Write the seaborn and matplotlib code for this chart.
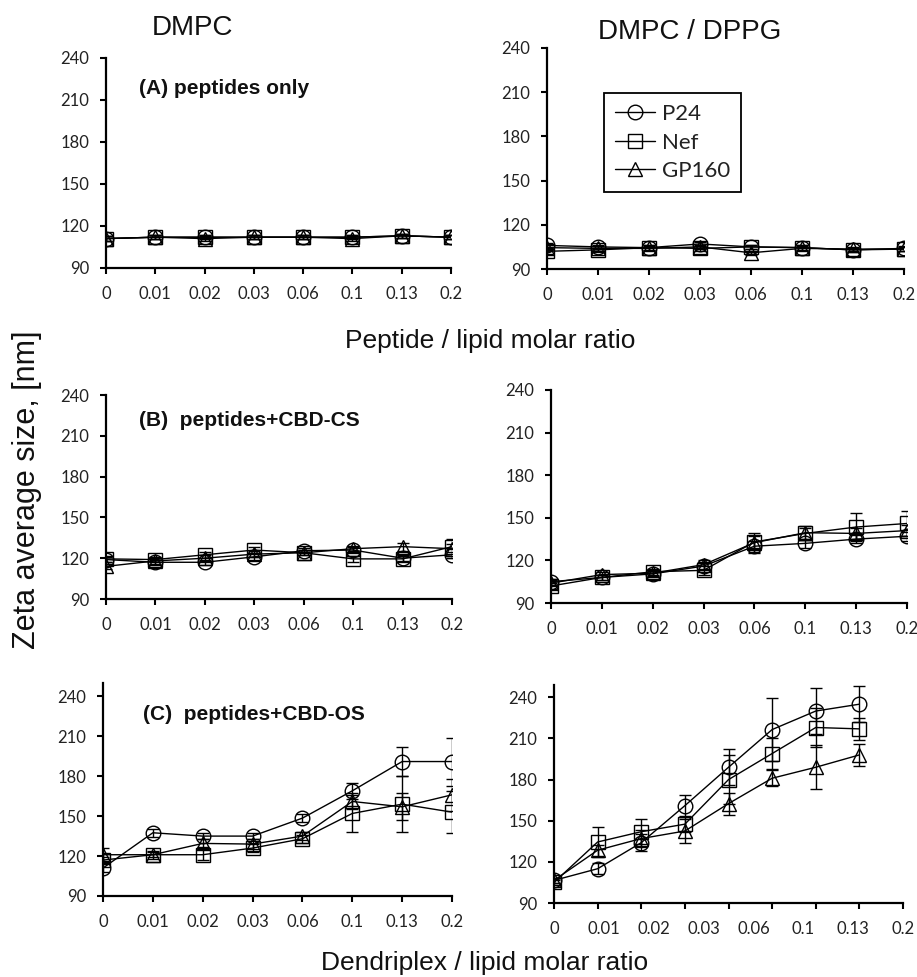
import matplotlib
matplotlib.use("Agg")
import matplotlib.pyplot as plt
import numpy as np
import seaborn as sns

# ---- categories -------------------------------------------------------
ratio_labels = ["0", "0.01", "0.02", "0.03", "0.06", "0.1", "0.13", "0.2"]
peptides = ["P24", "Nef", "GP160"]

# ---- (A) peptides only: zeta average size [nm] -------------------------
a_dmpc_p24 = [111, 112, 112, 112, 112, 112, 113, 112]
a_dmpc_nef = [111, 112, 112, 112, 112, 112, 113, 112]
a_dmpc_gp160 = [111, 112, 111, 112, 112, 111, 113, 112]

a_dppg_p24 = [106, 105, 104.5, 107, 105, 104.5, 103, 104]
a_dppg_nef = [102, 103, 104.5, 104, 105, 104.5, 103, 103.5]
a_dppg_gp160 = [104.5, 104, 104, 105, 101, 104, 103.5, 103.5]

a_err = [1.5, 1.5, 1.5, 1.5, 1.5, 1.5, 1.5, 1.5]

# ---- (B) peptides + CBD-CS ---------------------------------------------
b_dmpc_p24 = [119, 117, 117, 121, 125.5, 126, 120, 122.5]
b_dmpc_nef = [119.5, 119, 122.5, 126, 124, 119.5, 119.5, 128.5]
b_dmpc_gp160 = [114, 118, 120, 123, 124, 127, 128.5, 127]
b_dmpc_p24_err = [2, 2, 2, 2, 2, 2, 2, 2]
b_dmpc_nef_err = [2, 2, 2, 2, 2, 2, 2, 2]
b_dmpc_gp160_err = [2, 2, 2, 2, 2, 2, 3, 7]

b_dppg_p24 = [105, 108, 110.5, 116, 130, 132, 135, 137]
b_dppg_nef = [102, 108, 112, 113, 133, 139, 143.5, 146]
b_dppg_gp160 = [104, 110, 111, 117, 132.5, 139.5, 139, 141]
b_dppg_p24_err = [2, 2, 2, 3, 4, 3, 3, 3]
b_dppg_nef_err = [2, 2, 2, 3, 4, 4, 10, 9]
b_dppg_gp160_err = [2, 2, 2, 3, 7, 5, 4, 4]

# ---- (C) peptides + CBD-OS ---------------------------------------------
c_dmpc_p24 = [111, 137.5, 135, 135, 148.5, 169, 191, 191]
c_dmpc_nef = [117, 121, 121, 126, 133, 152, 159, 153]
c_dmpc_gp160 = [121, 121, 129.5, 129, 135, 161, 157, 166]
c_dmpc_p24_err = [3, 3, 2, 2, 3, 6, 11, 18]
c_dmpc_nef_err = [2, 2, 4, 3, 3, 14, 21, 16]
c_dmpc_gp160_err = [5, 3, 3, 4, 3, 6, 10, 12]

c_dppg_p24 = [106.5, 115, 134, 161, 189, 216.5, 230, 235]
c_dppg_nef = [105, 134.5, 142, 147.5, 180, 199, 218, 217]
c_dppg_gp160 = [106.5, 128.5, 137, 142.5, 162.5, 181, 189, 198]
c_dppg_p24_err = [2, 4, 6, 8, 13, 23, 17, 13]
c_dppg_nef_err = [2, 11, 9, 6, 18, 11, 14, 8]
c_dppg_gp160_err = [2, 4, 6, 9, 8, 6, 16, 8]

# ---- styling ------------------------------------------------------------
sns.set_style("ticks")
plt.rcParams["font.family"] = ["Lato", "DejaVu Sans"]
TITLE_FONT = ["Liberation Sans", "DejaVu Sans"]
TICK_SIZE = 12
TICK_COLOR = "#222222"

W, H = 917, 977
fig = plt.figure(figsize=(W / 100, H / 100), dpi=100)


def px_axes(left, top, right, bottom):
    return fig.add_axes([left / W, 1 - bottom / H, (right - left) / W, (bottom - top) / H])


marker_style = {
    "P24": dict(marker="o", markersize=10.5),
    "Nef": dict(marker="s", markersize=9.5),
    "GP160": dict(marker="^", markersize=10),
}


def draw_panel(ax, series, errors, ylim, n_slots=7):
    xpos = np.arange(len(ratio_labels))
    for name, vals, err in zip(peptides, series, errors):
        sns.lineplot(x=xpos, y=vals, ax=ax, color="black", lw=1.0,
                     markerfacecolor="none", markeredgecolor="black",
                     markeredgewidth=1.0, label=name, legend=False,
                     **marker_style[name])
        ax.errorbar(xpos, vals, yerr=err, fmt="none", ecolor="black",
                    elinewidth=1.0, capsize=4, capthick=1.0, zorder=3)
    ax.set_xlim(0, n_slots)
    ax.set_ylim(*ylim)
    ax.set_yticks([90, 120, 150, 180, 210, 240])
    ax.tick_params(axis="both", which="major", direction="out", length=4,
                   width=1.5, color="black", labelsize=TICK_SIZE,
                   labelcolor=TICK_COLOR)
    ax.tick_params(axis="y", pad=8)
    if n_slots == len(ratio_labels) - 1:
        ax.set_xticks(xpos)
        ax.set_xticklabels(ratio_labels)
        ax.tick_params(axis="x", which="major", pad=9)
    else:
        # axis with one more slot than points: tick marks at every slot,
        # category labels spread evenly across the full axis span
        ax.xaxis.remove_overlapping_locs = False
        ax.set_xticks(np.linspace(0, n_slots, len(ratio_labels)))
        ax.set_xticklabels(ratio_labels)
        ax.tick_params(axis="x", which="major", length=0, pad=13)
        ax.set_xticks(np.arange(n_slots + 1), minor=True)
        ax.tick_params(axis="x", which="minor", direction="out", length=4,
                       width=1.5, color="black", labelbottom=False)
    ax.set_xlabel("")
    ax.set_ylabel("")
    sns.despine(ax=ax)
    for sp in ("left", "bottom"):
        ax.spines[sp].set_linewidth(1.6)
        ax.spines[sp].set_color("black")
    ax.patch.set_alpha(0)


ax_a1 = px_axes(106, 58, 451, 268)
ax_a2 = px_axes(547, 48, 904, 269)
ax_b1 = px_axes(106, 395, 452, 599)
ax_b2 = px_axes(551, 390, 907, 603)
ax_c1 = px_axes(103, 683, 452, 896)
ax_c2 = px_axes(554, 685, 903, 903)

draw_panel(ax_a1, [a_dmpc_p24, a_dmpc_nef, a_dmpc_gp160], [a_err] * 3, (90, 240))
draw_panel(ax_a2, [a_dppg_p24, a_dppg_nef, a_dppg_gp160], [a_err] * 3, (90, 240))
draw_panel(ax_b1, [b_dmpc_p24, b_dmpc_nef, b_dmpc_gp160],
           [b_dmpc_p24_err, b_dmpc_nef_err, b_dmpc_gp160_err], (90, 240))
draw_panel(ax_b2, [b_dppg_p24, b_dppg_nef, b_dppg_gp160],
           [b_dppg_p24_err, b_dppg_nef_err, b_dppg_gp160_err], (90, 240))
draw_panel(ax_c1, [c_dmpc_p24, c_dmpc_nef, c_dmpc_gp160],
           [c_dmpc_p24_err, c_dmpc_nef_err, c_dmpc_gp160_err], (90, 250))
draw_panel(ax_c2, [c_dppg_p24, c_dppg_nef, c_dppg_gp160],
           [c_dppg_p24_err, c_dppg_nef_err, c_dppg_gp160_err], (90, 249), n_slots=8)

# legend in the DMPC / DPPG peptides-only panel
handles = [l for l in ax_a2.lines if l.get_label() in peptides]
leg = ax_a2.legend(handles=handles, labels=peptides, loc="upper left",
                   bbox_to_anchor=(0.16, 0.796), frameon=True, fancybox=False,
                   edgecolor="black", framealpha=1, borderaxespad=0,
                   prop={"family": ["Lato"], "size": 16}, handlelength=1.8,
                   handletextpad=0.3, labelspacing=0.38, borderpad=0.5)
leg.get_frame().set_linewidth(1.3)
for t in leg.get_texts():
    t.set_color(TICK_COLOR)

# column headings and shared axis titles
fig.text(193 / W, 1 - 28 / H, "DMPC", ha="center", va="center",
         fontsize=20, family=TITLE_FONT, color="#111111")
fig.text(690 / W, 1 - 32 / H, "DMPC / DPPG", ha="center", va="center",
         fontsize=20, family=TITLE_FONT, color="#111111")
fig.text(490 / W, 1 - 341 / H, "Peptide / lipid molar ratio", ha="center",
         va="center", fontsize=19, family=TITLE_FONT, color="#111111")
fig.text(485 / W, 1 - 963 / H, "Dendriplex / lipid molar ratio", ha="center",
         va="center", fontsize=19, family=TITLE_FONT, color="#111111")
fig.text(27 / W, 1 - 490 / H, "Zeta average size, [nm]", ha="center",
         va="center", rotation=90, fontsize=22, family=TITLE_FONT, color="#111111")

# panel tags
for x, y, s in [(139, 88, "(A) peptides only"),
                (139, 420, "(B)  peptides+CBD-CS"),
                (143, 715, "(C)  peptides+CBD-OS")]:
    fig.text(x / W, 1 - y / H, s, ha="left", va="center", fontsize=15,
             fontweight="bold", family=TITLE_FONT, color="#111111")

fig.savefig("out.png", dpi=100, facecolor="white")
